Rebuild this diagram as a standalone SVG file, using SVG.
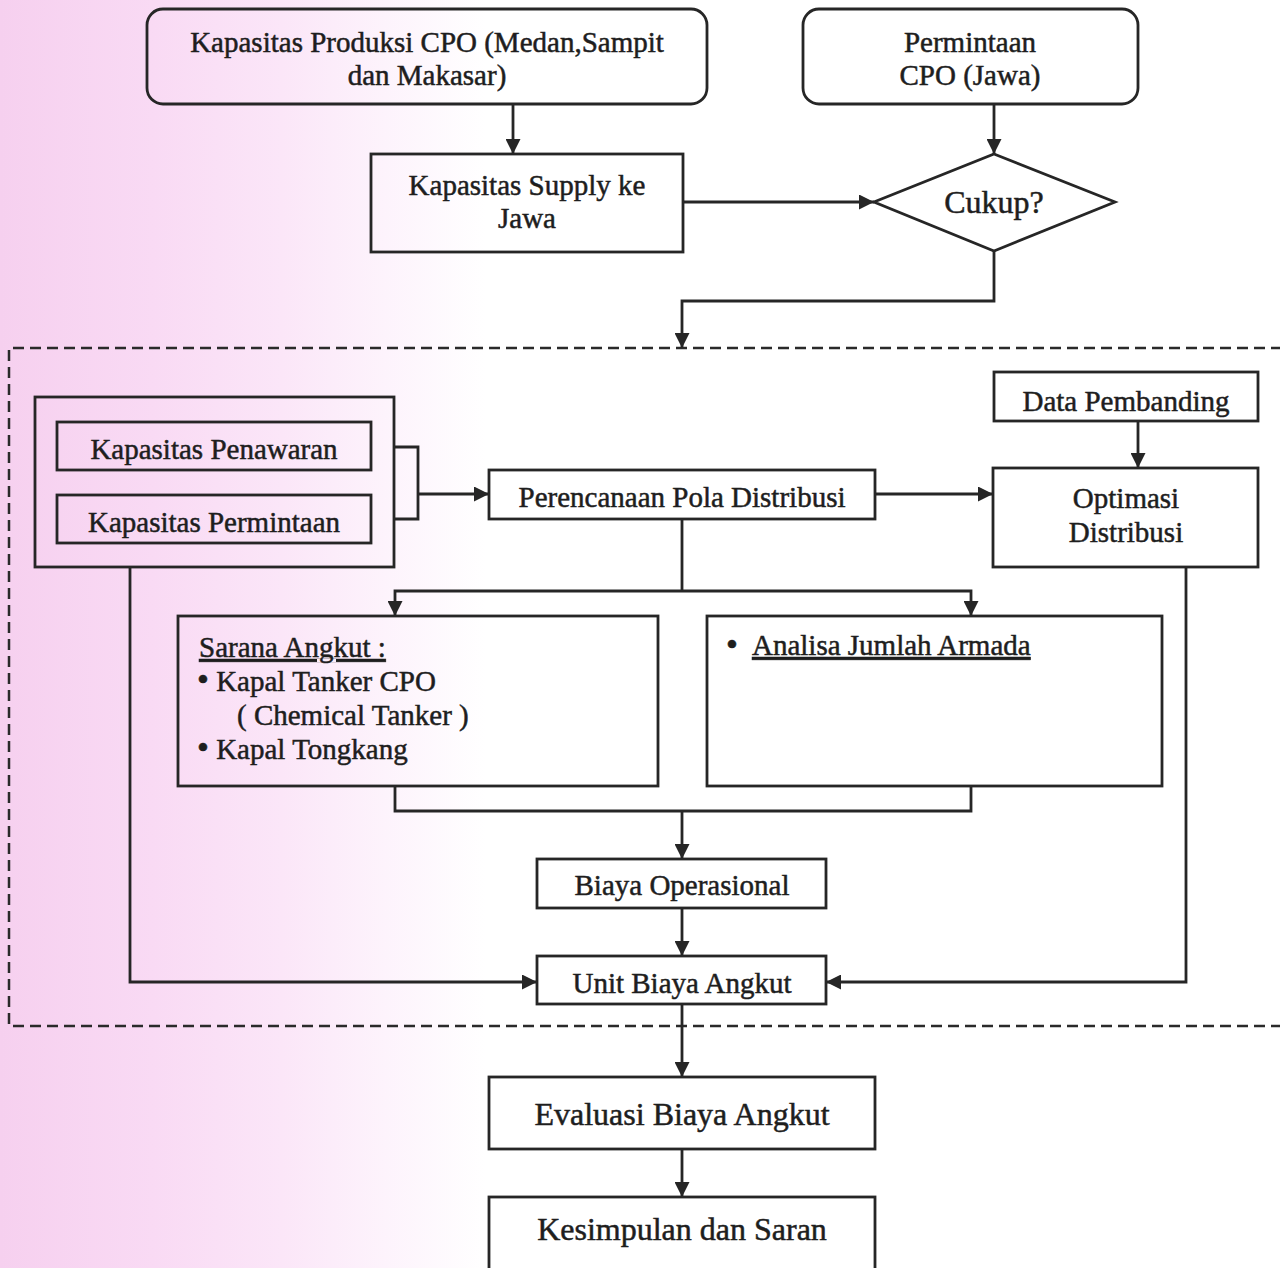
<svg xmlns="http://www.w3.org/2000/svg" width="1280" height="1268" viewBox="0 0 1280 1268">
  <defs>
    <linearGradient id="bg" x1="0" y1="0" x2="1" y2="0">
      <stop offset="0" stop-color="#f6d0ef"/>
      <stop offset="0.12" stop-color="#f9daf4"/>
      <stop offset="0.22" stop-color="#fbe6f8"/>
      <stop offset="0.3" stop-color="#fdf3fc"/>
      <stop offset="0.38" stop-color="#ffffff"/>
      <stop offset="1" stop-color="#ffffff"/>
    </linearGradient>
    <marker id="arr" viewBox="0 0 10 10" refX="10" refY="5" markerUnits="userSpaceOnUse" markerWidth="15" markerHeight="15" orient="auto">
      <path d="M0,0 L10,5 L0,10 z" fill="#262626"/>
    </marker>
    <style>
      .box { fill: none; stroke: #262626; stroke-width: 2.8; }
      .t { font-family: "Liberation Serif", "Times New Roman", serif; font-size: 29px; fill: #1e1e1e; stroke: #1e1e1e; stroke-width: 0.5; text-anchor: middle; }
      .tl { font-family: "Liberation Serif", "Times New Roman", serif; font-size: 29px; fill: #1e1e1e; stroke: #1e1e1e; stroke-width: 0.5; text-anchor: start; }
      .big { font-size: 32px; }
      .ul { text-decoration: underline; }
      .bul { font-size: 34px; }
      .conn { fill: none; stroke: #262626; stroke-width: 2.8; }
      .arrow { marker-end: url(#arr); }
      .dash { fill: none; stroke: #2a2a2a; stroke-width: 2.5; stroke-dasharray: 11 6; }
    </style>
  </defs>

  <rect x="0" y="0" width="1280" height="1268" fill="url(#bg)"/>

  <g id="region-dashed">
    <path class="dash" d="M1282,348 H9 V1026 H1282"/>
  </g>

  <g id="connectors">
    <path class="conn arrow" d="M513,104 V154"/>
    <path class="conn arrow" d="M994,104 V154"/>
    <path class="conn arrow" d="M683,202 H874"/>
    <path class="conn arrow" d="M994,251 V301 H682 V348"/>
    <path class="conn" d="M394,447 H418 V519 H394"/>
    <path class="conn arrow" d="M418,494 H489"/>
    <path class="conn arrow" d="M875,494 H993"/>
    <path class="conn arrow" d="M1138,421 V468"/>
    <path class="conn" d="M682,519 V591"/>
    <path class="conn arrow" d="M682,591 H395 V616"/>
    <path class="conn arrow" d="M682,591 H971 V616"/>
    <path class="conn" d="M395,786 V811 H971 V786"/>
    <path class="conn arrow" d="M682,811 V859"/>
    <path class="conn arrow" d="M682,908 V956"/>
    <path class="conn arrow" d="M130,567 V982 H537"/>
    <path class="conn arrow" d="M1186,567 V982 H826"/>
    <path class="conn arrow" d="M682,1004 V1077"/>
    <path class="conn arrow" d="M682,1149 V1197"/>
  </g>

  <g id="node-produksi">
    <rect class="box" x="147" y="9" width="560" height="95" rx="16" ry="16"/>
    <text class="t" x="427" y="52">Kapasitas Produksi CPO (Medan,Sampit</text>
    <text class="t" x="427" y="85">dan Makasar)</text>
  </g>

  <g id="node-permintaan-cpo">
    <rect class="box" x="803" y="9" width="335" height="95" rx="16" ry="16"/>
    <text class="t" x="970" y="52">Permintaan</text>
    <text class="t" x="970" y="85">CPO (Jawa)</text>
  </g>

  <g id="node-supply">
    <rect class="box" x="371" y="154" width="312" height="98"/>
    <text class="t" x="527" y="195">Kapasitas Supply ke</text>
    <text class="t" x="527" y="228">Jawa</text>
  </g>

  <g id="node-cukup">
    <polygon class="box" points="994,154 1115,202 994,251 874,202"/>
    <text class="t big" x="994" y="213">Cukup?</text>
  </g>

  <g id="node-kapasitas">
    <rect class="box" x="35" y="397" width="359" height="170"/>
    <rect class="box" x="57" y="422" width="314" height="48"/>
    <text class="t" x="214" y="459">Kapasitas Penawaran</text>
    <rect class="box" x="57" y="495" width="314" height="48"/>
    <text class="t" x="214" y="532">Kapasitas Permintaan</text>
  </g>

  <g id="node-perencanaan">
    <rect class="box" x="489" y="470" width="386" height="49"/>
    <text class="t" x="682" y="507">Perencanaan Pola Distribusi</text>
  </g>

  <g id="node-data-pembanding">
    <rect class="box" x="994" y="372" width="264" height="49"/>
    <text class="t" x="1126" y="411">Data Pembanding</text>
  </g>

  <g id="node-optimasi">
    <rect class="box" x="993" y="468" width="265" height="99"/>
    <text class="t" x="1126" y="508">Optimasi</text>
    <text class="t" x="1126" y="542">Distribusi</text>
  </g>

  <g id="node-sarana">
    <rect class="box" x="178" y="616" width="480" height="170"/>
    <text class="tl ul" x="199" y="657">Sarana Angkut :</text>
    <text class="tl" x="197" y="691"><tspan class="bul">•</tspan> Kapal Tanker CPO</text>
    <text class="tl" x="237" y="725">( Chemical Tanker )</text>
    <text class="tl" x="197" y="759"><tspan class="bul">•</tspan> Kapal Tongkang</text>
  </g>

  <g id="node-analisa">
    <rect class="box" x="707" y="616" width="455" height="170"/>
    <text class="tl bul" x="726" y="656">•</text>
    <text class="tl ul" x="752" y="655">Analisa Jumlah Armada</text>
  </g>

  <g id="node-biaya-operasional">
    <rect class="box" x="537" y="859" width="289" height="49"/>
    <text class="t" x="682" y="895">Biaya Operasional</text>
  </g>

  <g id="node-unit-biaya">
    <rect class="box" x="537" y="956" width="289" height="48"/>
    <text class="t" x="682" y="993">Unit Biaya Angkut</text>
  </g>

  <g id="node-evaluasi">
    <rect class="box" x="489" y="1077" width="386" height="72"/>
    <text class="t big" x="682" y="1125">Evaluasi Biaya Angkut</text>
  </g>

  <g id="node-kesimpulan">
    <rect class="box" x="489" y="1197" width="386" height="85"/>
    <text class="t big" x="682" y="1240">Kesimpulan dan Saran</text>
  </g>
</svg>
